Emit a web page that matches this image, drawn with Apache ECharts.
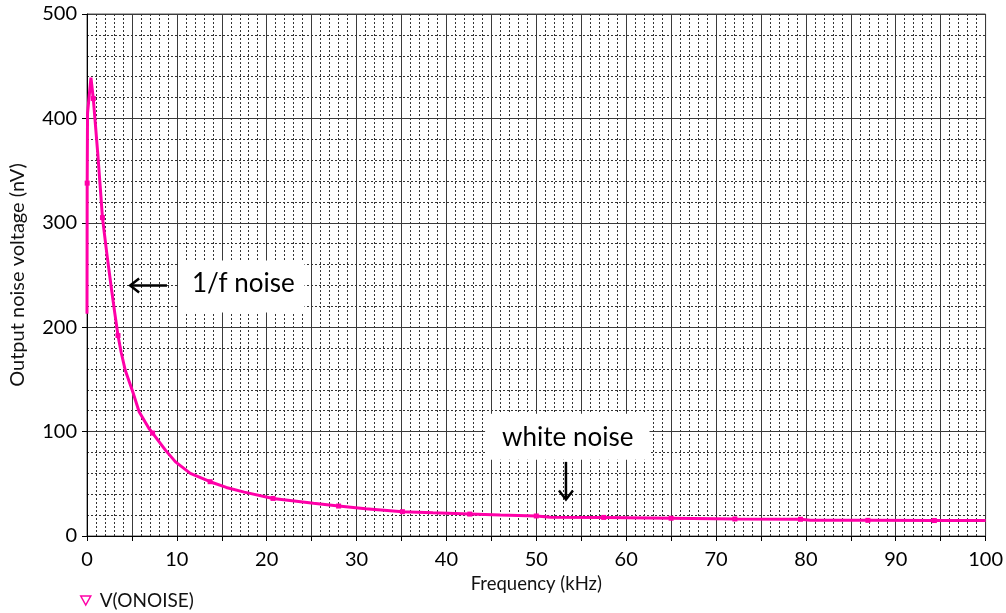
<!DOCTYPE html>
<html>
<head>
<meta charset="utf-8">
<script src="https://cdn.jsdelivr.net/npm/echarts@6/dist/echarts.min.js"></script>
<style>
  html, body { margin: 0; padding: 0; background: #fff; }
  #chart { width: 1006px; height: 613px; }
</style>
</head>
<body>
<div id="chart"></div>
<script>
// Output noise spectrum of V(ONOISE): frequency in kHz, noise in nV
const freqKHz = [0, 0.02, 0.06, 0.44, 0.7, 0.88, 1.2, 1.5, 1.72, 2.2,
                 2.7, 3.1, 3.45, 3.8, 4.25, 5.1, 5.8, 6.9, 7.3, 8.75,
                 9.85, 11.5, 13.7, 15.5, 17.5, 20.7, 25.2, 28, 31, 35.1,
                 38.5, 42.6, 46, 50, 51.6, 57.5, 65, 72.1, 79.4, 80.5,
                 86.9, 94.3, 100];
const noiseNV = [213, 338, 405, 439, 419, 400, 366, 331, 305, 271,
                 238, 213, 192, 176, 159, 138, 119, 103, 98.6, 82,
                 71, 60, 52, 46.5, 42, 36, 31.3, 28.7, 26, 23.3,
                 22.2, 21, 20, 19.2, 18, 17.8, 17, 16.3, 16, 15,
                 15, 14.8, 14.8];
// frequencies where the trace carries a small marker
const markerFreqs = [0.02, 0.7, 1.72, 3.45, 7.3, 13.7, 20.7, 28, 35.1, 42.6,
                     50, 57.5, 65, 72.1, 79.4, 86.9, 94.3];
const seriesName = 'V(ONOISE)';
const xTitle = 'Frequency (kHz)';
const yTitle = 'Output noise voltage (nV)';

// text callouts, placed in data coordinates
const callouts = [
  { text: '1/f noise', box: [10.2, 214, 24.2, 264], textAt: [17.4, 242],
    arrow: [[8.9, 240], [4.8, 240]] },
  { text: 'white noise', box: [44.3, 73, 62.6, 117], textAt: [53.5, 94],
    arrow: [[53.3, 71], [53.3, 35]] }
];

const FONT = 'Lato, "Open Sans", sans-serif';
const TRACE = '#ff00a8';

const seriesData = freqKHz.map((f, i) => {
  const mark = markerFreqs.indexOf(f) >= 0;
  return { value: [f, noiseNV[i]], symbolSize: mark ? 5 : 0 };
});

const chart = echarts.init(document.getElementById('chart'), null, { renderer: 'canvas' });

const majorLine = { show: true, lineStyle: { color: '#3a3a3a', width: 1 } };
const minorLine = { show: true, lineStyle: { color: '#333', width: 1, type: [2, 2] } };

chart.setOption({
  animation: false,
  backgroundColor: '#fff',
  grid: { left: 87, right: 9, top: 14, bottom: 77, show: true,
          borderColor: '#555', borderWidth: 1, backgroundColor: 'transparent' },
  xAxis: {
    type: 'value', min: 0, max: 100, interval: 5,
    name: xTitle, nameLocation: 'middle', nameGap: 35,
    nameTextStyle: { fontFamily: FONT, fontSize: 18.5, color: '#111' },
    axisLine: { show: true, lineStyle: { color: '#000', width: 1 } },
    axisTick: { show: true, length: 5, lineStyle: { color: '#000' } },
    axisLabel: { fontFamily: FONT, fontSize: 20, color: '#000', margin: 14,
                 formatter: v => (v % 10 === 0 ? String(v) : '') },
    splitLine: majorLine,
    minorTick: { show: false, splitNumber: 5 },
    minorSplitLine: minorLine
  },
  yAxis: {
    type: 'value', min: 0, max: 500, interval: 100,
    name: yTitle, nameLocation: 'middle', nameGap: 59, nameRotate: 90,
    nameTextStyle: { fontFamily: FONT, fontSize: 20, color: '#111' },
    axisLine: { show: true, lineStyle: { color: '#000', width: 1 } },
    axisTick: { show: true, length: 5, lineStyle: { color: '#000' } },
    axisLabel: { fontFamily: FONT, fontSize: 20, color: '#000', margin: 10 },
    splitLine: majorLine,
    minorTick: { show: false, splitNumber: 5 },
    minorSplitLine: minorLine
  },
  legend: {
    left: 80, top: 591, itemWidth: 10, itemHeight: 9, itemGap: 8, padding: 0,
    textStyle: { fontFamily: FONT, fontSize: 19, color: '#111', padding: [0, 0, 0, 4] },
    data: [{ name: seriesName, icon: 'path://M0,0 L10,0 L5,9 Z',
             itemStyle: { color: '#fff', borderColor: TRACE, borderWidth: 1.5 } }]
  },
  series: [{
    name: seriesName,
    type: 'line',
    data: seriesData,
    symbol: 'rect',
    showSymbol: true,
    itemStyle: { color: TRACE },
    lineStyle: { color: TRACE, width: 3 },
    z: 5
  }]
});

// callout boxes, labels and arrows
const px = p => chart.convertToPixel({ gridIndex: 0 }, p);
const elements = [];
callouts.forEach(c => {
  const a = px([c.box[0], c.box[3]]);
  const b = px([c.box[2], c.box[1]]);
  elements.push({ type: 'rect', z: 20,
    shape: { x: a[0], y: a[1], width: b[0] - a[0], height: b[1] - a[1] },
    style: { fill: '#fff' } });
  const t = px(c.textAt);
  elements.push({ type: 'text', z: 21, x: t[0], y: t[1],
    style: { text: c.text, fill: '#000', font: '26px ' + FONT,
             textAlign: 'center', textVerticalAlign: 'middle' } });
  const s = px(c.arrow[0]);
  const e = px(c.arrow[1]);
  const dx = e[0] - s[0], dy = e[1] - s[1];
  const len = Math.hypot(dx, dy);
  const ux = dx / len, uy = dy / len;
  const h = 9, w = 7;
  elements.push({ type: 'line', z: 21,
    shape: { x1: s[0], y1: s[1], x2: e[0] - ux, y2: e[1] - uy },
    style: { stroke: '#000', lineWidth: 2.5 } });
  elements.push({ type: 'polyline', z: 21,
    shape: { points: [
      [e[0] - ux * h - uy * w, e[1] - uy * h + ux * w],
      [e[0], e[1]],
      [e[0] - ux * h + uy * w, e[1] - uy * h - ux * w]
    ] },
    style: { stroke: '#000', lineWidth: 2.5, fill: null } });
});
chart.setOption({ graphic: { elements } });
</script>
</body>
</html>
